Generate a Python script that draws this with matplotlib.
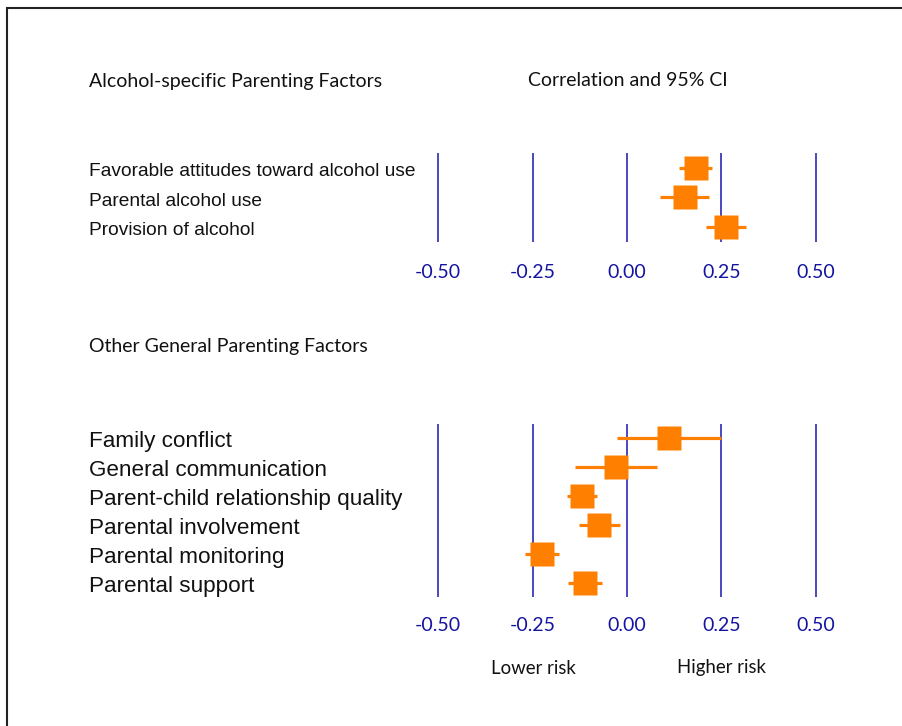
import matplotlib
matplotlib.use("Agg")
import matplotlib.pyplot as plt
from matplotlib.patches import Rectangle

# alcohol-specific factors: estimate, lower, upper
alc_labels = ["Favorable attitudes toward alcohol use", "Parental alcohol use", "Provision of alcohol"]
alc_r = [0.182, 0.153, 0.263]
alc_lo = [0.139, 0.088, 0.210]
alc_hi = [0.226, 0.218, 0.316]

# other general parenting factors
gen_labels = ["Family conflict", "General communication", "Parent-child relationship quality",
              "Parental involvement", "Parental monitoring", "Parental support"]
gen_r = [0.112, -0.030, -0.120, -0.073, -0.225, -0.111]
gen_lo = [-0.027, -0.137, -0.159, -0.128, -0.270, -0.157]
gen_hi = [0.249, 0.079, -0.080, -0.019, -0.180, -0.065]

ticks = [-0.50, -0.25, 0.00, 0.25, 0.50]

W, H = 902, 726
ORANGE = "#ff8000"
NAVY = "#2a2ab0"
TICKC = "#1414a0"
HEAD_FONT = "Lato"
LAB_FONT = "Liberation Sans"


def px(x, y):
    return x / W, 1 - y / H


def forest(ax, labels, r, lo, hi, label_size, pad):
    n = len(labels)
    ys = list(range(1, n + 1))
    for t in ticks:
        ax.axvline(t, color=NAVY, lw=1.2, zorder=1)
    ax.hlines(ys, lo, hi, color=ORANGE, lw=2.3, zorder=2, clip_on=False)
    ax.plot(r, ys, "s", color=ORANGE, ms=17, mec="none", zorder=3, clip_on=False)
    ax.set_xlim(-0.55, 0.55)
    ax.set_ylim(n + 0.5, 0.5)
    ax.set_xticks(ticks)
    ax.set_xticklabels(["%.2f" % t for t in ticks], color=TICKC,
                       fontsize=14, family=HEAD_FONT)
    ax.tick_params(axis="x", length=0, pad=pad)
    ax.set_yticks([])
    for s in ax.spines.values():
        s.set_visible(False)
    x0 = ax.transAxes.inverted().transform(fig.transFigure.transform((89 / W, 0)))[0]
    for y, lab in zip(ys, labels):
        ax.text(x0, y + 0.12, lab, transform=ax.get_yaxis_transform(), ha="left", va="center",
                fontsize=label_size, family=LAB_FONT, color="#111111")


fig = plt.figure(figsize=(W / 100, H / 100), dpi=100)

left = 419.4 / W
width = 415.25 / W
ax1 = fig.add_axes([left, (H - 241.7) / H, width, 88.4 / H])
ax2 = fig.add_axes([left, (H - 597.3) / H, width, 173.3 / H])

forest(ax1, alc_labels, alc_r, alc_lo, alc_hi, 13.8, 16)
forest(ax2, gen_labels, gen_r, gen_lo, gen_hi, 16.2, 14.5)

fig.text(*px(89, 81), "Alcohol-specific Parenting Factors", ha="left", va="center",
         fontsize=14, family=HEAD_FONT, color="#111111")
fig.text(*px(528, 81), "Correlation and 95% CI", ha="left", va="center",
         fontsize=14, family=HEAD_FONT, color="#111111")
fig.text(*px(89, 346), "Other General Parenting Factors", ha="left", va="center",
         fontsize=14, family=HEAD_FONT, color="#111111")
fig.text(*px(533, 668), "Lower risk", ha="center", va="center",
         fontsize=13.4, family=HEAD_FONT, color="#111111")
fig.text(*px(721, 668), "Higher risk", ha="center", va="center",
         fontsize=13.4, family=HEAD_FONT, color="#111111")

# frame around the figure (right and bottom edges fall outside)
fig.add_artist(Rectangle(px(7, 760), 1.0, (760 - 8) / H, transform=fig.transFigure,
                         fill=False, ec="#222222", lw=1.5))

fig.savefig("out.png", dpi=100)
